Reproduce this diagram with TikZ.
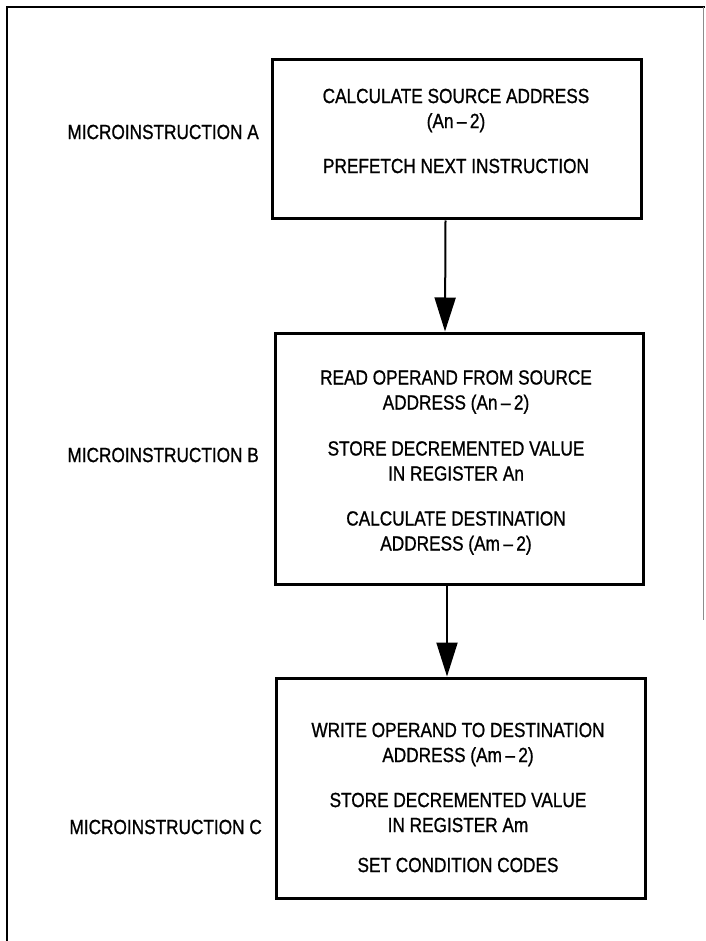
\documentclass[tikz,border=0pt]{standalone}
\usepackage{fontspec}
\setmainfont[FakeStretch=0.84,RawFeature={embolden=0.9}]{Liberation Sans}
\usetikzlibrary{arrows.meta}
\tikzset{
  stepbox/.style={draw=black, line width=3pt, inner sep=0pt},
  steptext/.style={align=center, inner sep=0pt, font=\fontsize{20.5}{25}\selectfont},
  microlabel/.style={anchor=east, inner sep=0pt, font=\fontsize{20.5}{25}\selectfont},
  flow/.style={line width=2pt, -{Triangle[length=34pt,width=21pt]}},
  frame/.style={line width=1.6pt}
}
\begin{document}
\begin{tikzpicture}[x=1pt,y=-1pt]
\useasboundingbox (0,0) rectangle (705,941);
% outer frame
\coordinate (ftl) at (7,7);
\coordinate (fbl) at (7,941);
\coordinate (ftr) at (705,7);
\coordinate (rtop) at (703,7);
\coordinate (rbot) at (703,620);
\draw[frame] (fbl) -- (ftl) -- (ftr);
\draw[line width=0.8pt, black!45] (rtop) -- (rbot);

% boxes
\node[stepbox, minimum width=369pt, minimum height=159pt] (A) at (456.5,139.5) {};
\node[stepbox, minimum width=368pt, minimum height=251pt] (B) at (459,458.5) {};
\node[stepbox, minimum width=369pt, minimum height=220pt] (C) at (461,788) {};

% box texts
\node[steptext] (tA) at (456,131) {CALCULATE SOURCE ADDRESS\\(An\,--\,2)\\[20pt]PREFETCH NEXT INSTRUCTION};
\node[steptext] (tB) at (456,462.5) {READ OPERAND FROM SOURCE\\ADDRESS (An\,--\,2)\\[21pt]STORE DECREMENTED VALUE\\IN REGISTER An\\[20pt]CALCULATE DESTINATION\\ADDRESS (Am\,--\,2)};
\node[steptext] (tC) at (458,797.5) {WRITE OPERAND TO DESTINATION\\ADDRESS (Am\,--\,2)\\[20pt]STORE DECREMENTED VALUE\\IN REGISTER Am\\[15pt]SET CONDITION CODES};

% labels
\node[microlabel] (lA) at (259,132) {MICROINSTRUCTION A};
\node[microlabel] (lB) at (259,455) {MICROINSTRUCTION B};
\node[microlabel] (lC) at (262,827) {MICROINSTRUCTION C};

% connectors
\draw[flow] ([xshift=-11pt]A.south) -- ([xshift=-14pt]B.north);
\draw[flow] ([xshift=-12pt]B.south) -- ([xshift=-14pt]C.north);
\end{tikzpicture}
\end{document}
